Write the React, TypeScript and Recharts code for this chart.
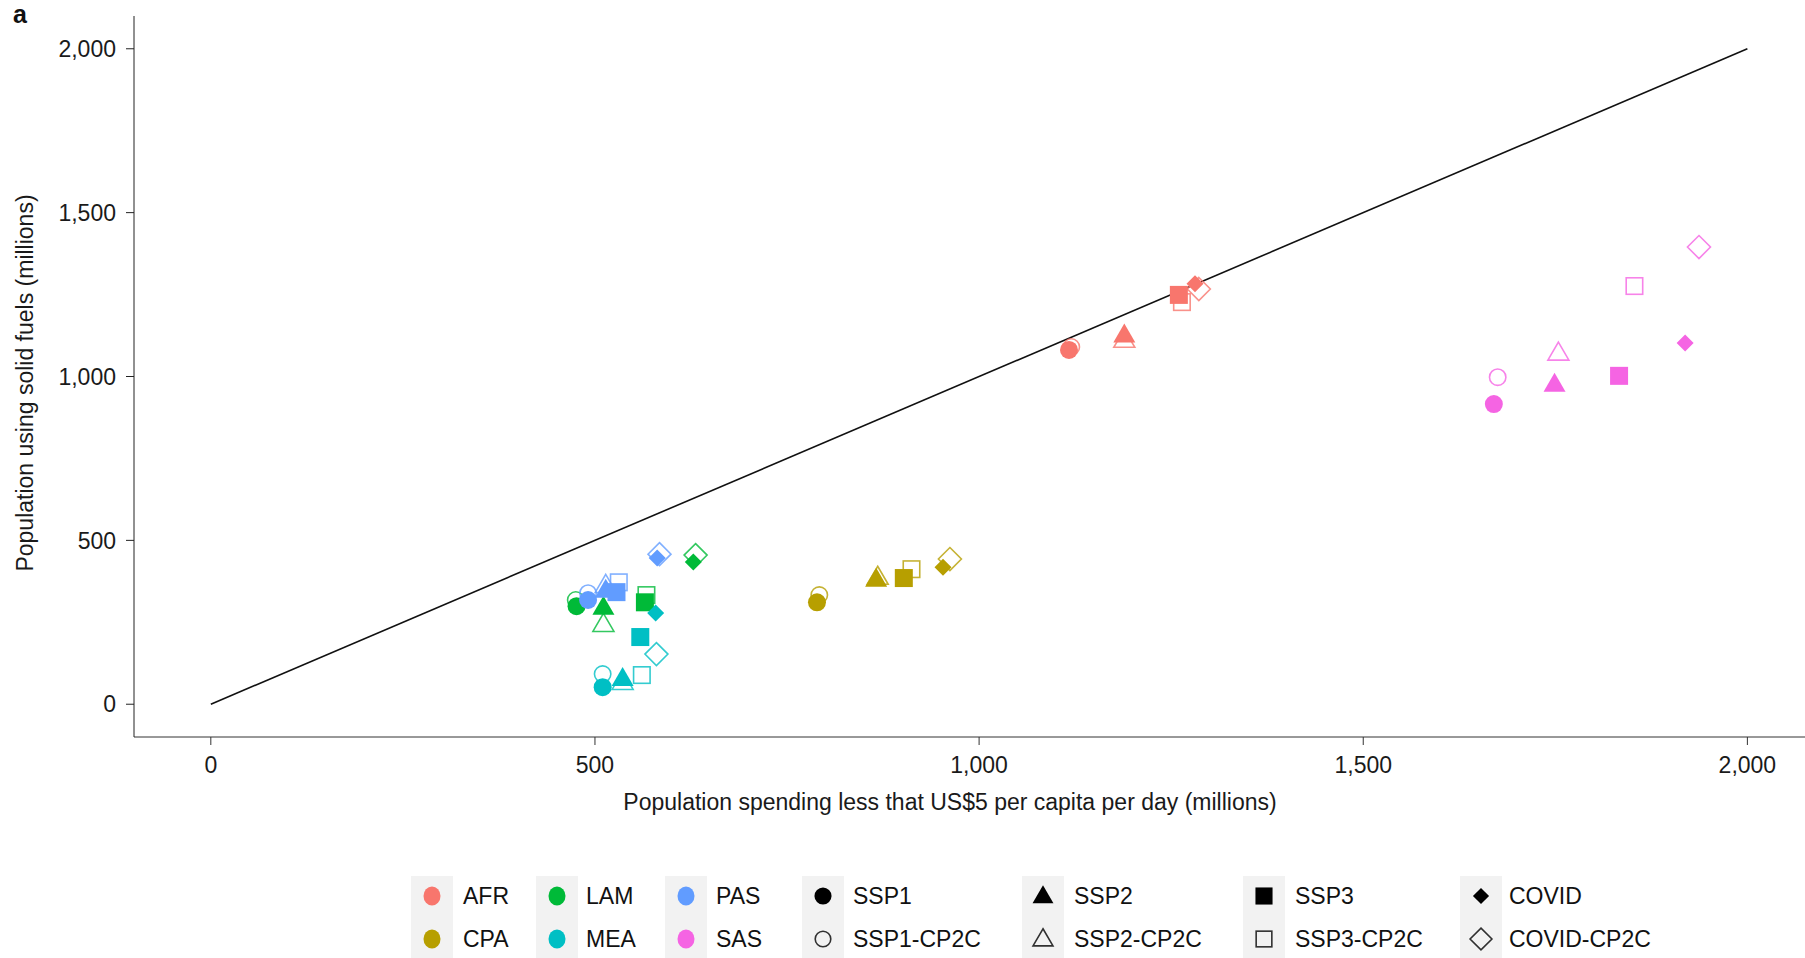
import React from 'react';
import {
  ScatterChart,
  Scatter,
  XAxis,
  YAxis,
  ReferenceLine,
} from 'recharts';

// regions, in the order used by every series array below
const regions = ['AFR', 'CPA', 'LAM', 'MEA', 'PAS', 'SAS'];
const regionColors = ['#F8766D', '#B79F00', '#00BA38', '#00BFC4', '#619CFF', '#F564E3'];

// scenario values (millions): x = spending < US$5/day, y = solid fuel users
const ssp1X = [1117, 789, 476, 510, 491, 1670];
const ssp1Y = [1081, 311, 299, 52, 318, 916];
const ssp1CpX = [1120, 792, 475, 510, 491, 1675];
const ssp1CpY = [1090, 333, 318, 92, 339, 998];
const ssp2X = [1189, 866, 511, 536, 514, 1749];
const ssp2Y = [1127, 382, 296, 79, 348, 977];
const ssp2CpX = [1189, 868, 511, 536, 514, 1754];
const ssp2CpY = [1111, 388, 244, 67, 363, 1072];
const ssp3X = [1260, 902, 565, 559, 528, 1833];
const ssp3Y = [1249, 385, 311, 205, 342, 1002];
const ssp3CpX = [1264, 912, 567, 561, 531, 1853];
const ssp3CpY = [1227, 412, 333, 89, 372, 1276];
const covidX = [1281, 953, 628, 579, 581, 1919];
const covidY = [1283, 418, 434, 278, 446, 1102];
const covidCpX = [1286, 962, 631, 580, 584, 1937];
const covidCpY = [1267, 443, 455, 153, 458, 1395];

const xTicks = [0, 500, 1000, 1500, 2000];
const yTicks = [0, 500, 1000, 1500, 2000];

type Shape = 'circle' | 'triangle' | 'square' | 'diamond';

const scenarios: { name: string; shape: Shape; filled: boolean; xs: number[]; ys: number[] }[] = [
  { name: 'SSP1', shape: 'circle', filled: true, xs: ssp1X, ys: ssp1Y },
  { name: 'SSP1-CP2C', shape: 'circle', filled: false, xs: ssp1CpX, ys: ssp1CpY },
  { name: 'SSP2', shape: 'triangle', filled: true, xs: ssp2X, ys: ssp2Y },
  { name: 'SSP2-CP2C', shape: 'triangle', filled: false, xs: ssp2CpX, ys: ssp2CpY },
  { name: 'SSP3', shape: 'square', filled: true, xs: ssp3X, ys: ssp3Y },
  { name: 'SSP3-CP2C', shape: 'square', filled: false, xs: ssp3CpX, ys: ssp3CpY },
  { name: 'COVID', shape: 'diamond', filled: true, xs: covidX, ys: covidY },
  { name: 'COVID-CP2C', shape: 'diamond', filled: false, xs: covidCpX, ys: covidCpY },
];

const font = '"Liberation Sans", Arial, Helvetica, sans-serif';

function Marker({ shape, filled, cx, cy, color, scale = 1 }: {
  shape: Shape; filled: boolean; cx: number; cy: number; color: string; scale?: number;
}) {
  const fill = filled ? color : 'none';
  const stroke = filled ? 'none' : color;
  const common = { fill, stroke, strokeWidth: 1.6, strokeOpacity: 0.8 };
  if (shape === 'circle') {
    const r = (filled ? 9 : 8.2) * scale;
    return <circle cx={cx} cy={cy} r={r} {...common} />;
  }
  if (shape === 'triangle') {
    const w = (filled ? 22 : 21) * scale;
    const h = (filled ? 19 : 18) * scale;
    const d = `M${cx},${cy - h * 0.6} L${cx + w / 2},${cy + h * 0.4} L${cx - w / 2},${cy + h * 0.4} Z`;
    return <path d={d} {...common} />;
  }
  if (shape === 'square') {
    const s = (filled ? 18 : 16.5) * scale;
    return <rect x={cx - s / 2} y={cy - s / 2} width={s} height={s} {...common} />;
  }
  const r = (filled ? 8.5 : 11.5) * scale;
  const d = `M${cx},${cy - r} L${cx + r},${cy} L${cx},${cy + r} L${cx - r},${cy} Z`;
  return <path d={d} {...common} />;
}

const makeShape = (shape: Shape, filled: boolean) => (props: any) => {
  const { cx, cy, payload } = props;
  if (cx == null || cy == null) return <g />;
  return <Marker shape={shape} filled={filled} cx={cx} cy={cy} color={payload.color} />;
};

// open symbols first, filled on top
const drawOrder = [...scenarios.filter((s) => !s.filled), ...scenarios.filter((s) => s.filled)];

const legendCols = [
  { x: 411, text: 463 },
  { x: 536, text: 586 },
  { x: 665, text: 716 },
  { x: 802, text: 853 },
  { x: 1022, text: 1074 },
  { x: 1243, text: 1295 },
  { x: 1460, text: 1509 },
];

export default function App() {
  const fmt = (v: number) => v.toLocaleString('en-US');

  const legendRegionItems = regions.map((r, i) => ({ label: r, col: Math.floor(i / 2), row: i % 2, color: regionColors[i] }));
  const legendScenarioItems = scenarios.map((s, i) => ({ ...s, col: 3 + Math.floor(i / 2), row: i % 2 }));
  const rowY = [896, 939];

  return (
    <div style={{ position: 'absolute', left: 0, top: 0, width: 1805, height: 958, background: '#fff', fontFamily: font, overflow: 'hidden' }}>
      <ScatterChart width={1805} height={958} margin={{ top: 16, right: 0, left: 0, bottom: 161 }}>
        <XAxis
          type="number"
          dataKey="x"
          domain={[-100, 2075]}
          ticks={xTicks}
          tickFormatter={fmt}
          allowDataOverflow
          height={60}
          tickSize={8}
          tickMargin={12}
          stroke="#333"
          tick={{ fill: '#1a1a1a', fontSize: 23, fontFamily: font }}
        />
        <YAxis
          type="number"
          dataKey="y"
          domain={[-100, 2100]}
          ticks={yTicks}
          tickFormatter={fmt}
          allowDataOverflow
          width={134}
          tickSize={8}
          tickMargin={10}
          stroke="#222"
          tick={{ fill: '#1a1a1a', fontSize: 23, fontFamily: font }}
        />
        {drawOrder.map((s) => (
          <Scatter
            key={s.name}
            name={s.name}
            data={s.xs.map((x, i) => ({ x, y: s.ys[i], region: regions[i], color: regionColors[i] }))}
            shape={makeShape(s.shape, s.filled)}
            isAnimationActive={false}
          />
        ))}
        <ReferenceLine
          segment={[{ x: 0, y: 0 }, { x: 2000, y: 2000 }]}
          stroke="#111"
          strokeWidth={1.6}
          ifOverflow="visible"
        />
      </ScatterChart>

      <div style={{ position: 'absolute', left: 13, top: 0, fontSize: 25, fontWeight: 'bold', color: '#111' }}>a</div>

      <div style={{ position: 'absolute', left: 950, top: 802, transform: 'translate(-50%, -50%)', fontSize: 23, color: '#1a1a1a', whiteSpace: 'nowrap' }}>
        Population spending less that US$5 per capita per day (millions)
      </div>
      <div style={{ position: 'absolute', left: 25, top: 383, transform: 'translate(-50%, -50%) rotate(-90deg)', fontSize: 23, color: '#1a1a1a', whiteSpace: 'nowrap' }}>
        Population using solid fuels (millions)
      </div>

      {legendCols.map((c, i) => (
        <div key={i} style={{ position: 'absolute', left: c.x, top: 876, width: 42, height: 84, background: '#F2F2F2' }} />
      ))}
      <svg style={{ position: 'absolute', left: 0, top: 0 }} width={1805} height={958}>
        {legendRegionItems.map((it) => (
          <g key={it.label}>
            <ellipse cx={legendCols[it.col].x + 21} cy={rowY[it.row]} rx={8.5} ry={9.5} fill={it.color} />
            <text x={legendCols[it.col].text} y={rowY[it.row] + 8} fontSize={23} fontFamily={font} fill="#111">{it.label}</text>
          </g>
        ))}
        {legendScenarioItems.map((it) => (
          <g key={it.name}>
            <Marker shape={it.shape} filled={it.filled} cx={legendCols[it.col].x + 21} cy={rowY[it.row]} color="#000" scale={0.95} />
            <text x={legendCols[it.col].text} y={rowY[it.row] + 8} fontSize={23} fontFamily={font} fill="#111">{it.name}</text>
          </g>
        ))}
      </svg>
    </div>
  );
}
